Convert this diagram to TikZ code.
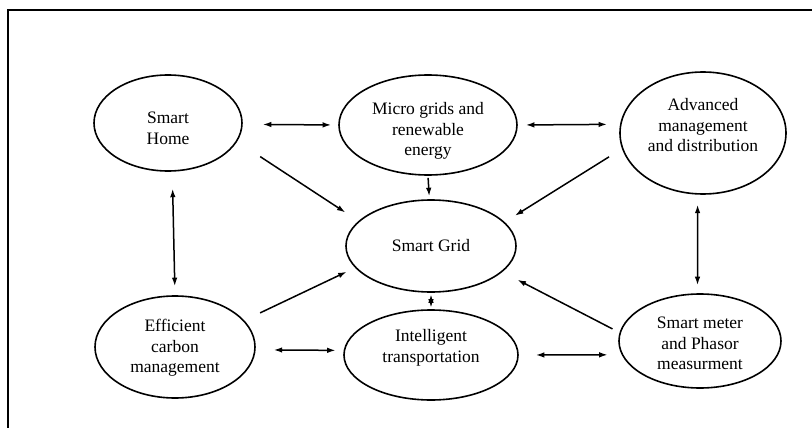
\documentclass[tikz,border=0pt]{standalone}
\usepackage{fontspec}
\setmainfont{Liberation Serif}
\usetikzlibrary{arrows.meta,shapes.geometric}
\newcommand\lifted[2]{\raisebox{#1}[\height][\depth]{\begin{tabular}{@{}c@{}}#2\end{tabular}}}

\begin{document}
\begin{tikzpicture}[x=1pt, y=-1pt,
	bubble/.style={draw, ellipse, line width=1.6pt, inner sep=0pt,
		font=\fontsize{17.5}{20.5}\selectfont},
	link/.style={line width=1.5pt, {Latex[length=8.5pt,width=5.5pt]}-{Latex[length=8.5pt,width=5.5pt]}},
	feed/.style={line width=1.5pt, -{Latex[length=8.5pt,width=5.5pt]}}]
			%%%%% START %%%%%
			
			\useasboundingbox (0,0) rectangle (812,428);
			\draw[line width=2pt] (8,428) -- (8,10) -- (812,10);
			
			\node[bubble, minimum width=148, minimum height=96] (home) at (168,123) {\lifted{-7pt}{Smart\\Home}};
			\node[bubble, minimum width=178, minimum height=100] (micro) at (428,125) {\lifted{-6pt}{Micro grids and\\renewable\\energy}};
			\node[bubble, minimum width=166, minimum height=122] (adv) at (703,133) {\lifted{6pt}{Advanced\\management\\and distribution}};
			
			\node[bubble, minimum width=170, minimum height=92] (grid) at (431,246) {Smart Grid};
			
			\node[bubble, minimum width=160, minimum height=102] (eff) at (175,347) {\lifted{-1pt}{Efficient\\carbon\\management}};
			\node[bubble, minimum width=174, minimum height=90] (intel) at (431,355) {\lifted{7pt}{Intelligent\\transportation}};
			\node[bubble, minimum width=162, minimum height=94] (meter) at (700,341) {\lifted{-4pt}{Smart meter\\and Phasor\\measurment}};
			
			\draw[link, shorten <=20, shorten >=7] (home.-1.5) -- (micro.west);
			\draw[link, shorten <=8, shorten >=13] (micro.east) -- (adv.174.4);
			\draw[link, shorten <=17, shorten >=9] (home.-85) -- (eff.north);
			\draw[link, shorten <=10, shorten >=8] (adv.-95) -- (meter.93);
			\draw[link, shorten <=18, shorten >=8] (eff.-2) -- (intel.177);
			\draw[link, shorten <=17, shorten >=14] (intel.east) -- (meter.190.3);
			\draw[link, shorten <=1.5, shorten >=1.5] (intel.north) -- (grid.south);
			
			\draw[feed, shorten <=27.5, shorten >=15.6] (home.-15.7) -- (grid.161.1);
			\draw[feed, shorten <=2, shorten >=3] (micro.south) -- (grid.92);
			\draw[feed, shorten <=15.2, shorten >=12] (adv.191.3) -- (grid.18);
			\draw[feed, shorten <=17.5, shorten >=9.3] (eff.21.4) -- (grid.196.5);
			\draw[feed, shorten <=7.9, shorten >=17] (meter.174.7) -- (grid.-20.5);
			
			%%%%% END %%%%%
\end{tikzpicture}
\end{document}
